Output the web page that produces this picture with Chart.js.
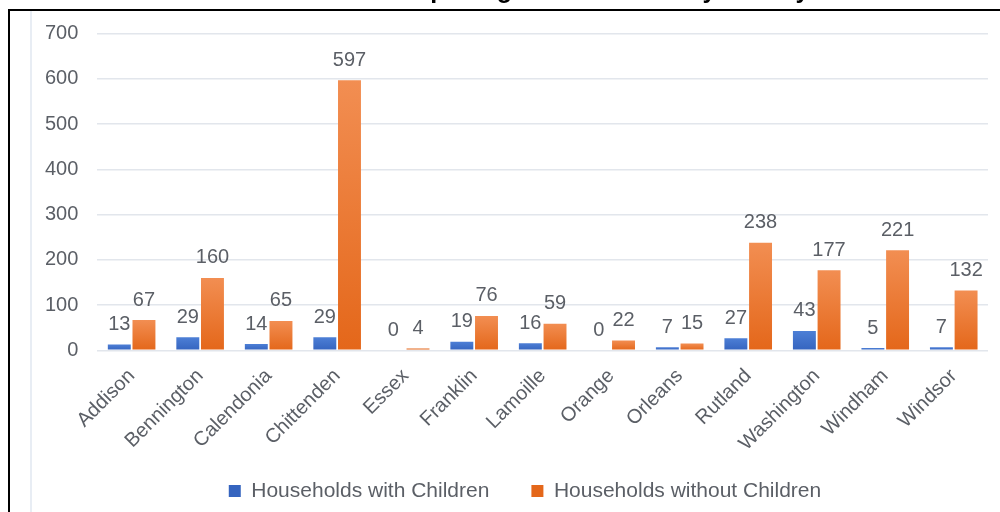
<!DOCTYPE html>
<html>
<head>
<meta charset="utf-8">
<title>Households by County</title>
<script src="https://cdn.jsdelivr.net/npm/chart.js@4/dist/chart.umd.min.js"></script>
<style>
  html, body { margin: 0; padding: 0; background: #fff; overflow: hidden; }
  body { width: 1000px; height: 512px; position: relative; }
  #frame {
    position: absolute; left: 8px; top: 9px; width: 1010px; height: 520px;
    border-top: 2px solid #000; border-left: 2px solid #000;
  }
  #inner {
    position: absolute; left: 30px; top: 11px; width: 0; height: 510px;
    border-left: 2px solid #e8edf4;
  }
  #wrap { position: absolute; left: 12px; top: -24px; width: 1007px; height: 560px; }
</style>
</head>
<body>
<div id="frame"></div>
<div id="inner"></div>
<div id="wrap"><canvas id="barChart"></canvas></div>
<script>
const counties = ['Addison', 'Bennington', 'Calendonia', 'Chittenden', 'Essex', 'Franklin',
  'Lamoille', 'Orange', 'Orleans', 'Rutland', 'Washington', 'Windham', 'Windsor'];
const withChildren = [13, 29, 14, 29, 0, 19, 16, 0, 7, 27, 43, 5, 7];
const withoutChildren = [67, 160, 65, 597, 4, 76, 59, 22, 15, 238, 177, 221, 132];
const seriesNames = ['Households with Children', 'Households without Children'];
const yMax = 700;
const yStep = 100;

const blue = ['#4d7fd6', '#3564bf'];
const orange = ['#f28e52', '#e4671a'];

Chart.defaults.font.family = "'Liberation Sans', Arial, sans-serif";
Chart.defaults.font.size = 20;
Chart.defaults.color = '#5b5f66';

// each bar gets its own top-to-bottom gradient
function barFill(light, dark) {
  return function(ctx) {
    const chart = ctx.chart;
    if (ctx.type !== 'data' || !chart.chartArea || !chart.scales.y) return dark;
    const y = chart.scales.y;
    const top = y.getPixelForValue(ctx.raw);
    const bottom = y.getPixelForValue(0);
    if (bottom - top < 2) return dark;
    const g = chart.ctx.createLinearGradient(0, top, 0, bottom);
    g.addColorStop(0, light);
    g.addColorStop(1, dark);
    return g;
  };
}

// value written above every bar
const valueLabels = {
  id: 'valueLabels',
  afterDatasetsDraw(chart) {
    const c = chart.ctx;
    c.save();
    c.font = "20px 'Liberation Sans', Arial, sans-serif";
    c.fillStyle = '#5b5f66';
    c.textAlign = 'center';
    c.textBaseline = 'bottom';
    chart.data.datasets.forEach(function(ds, i) {
      chart.getDatasetMeta(i).data.forEach(function(bar, j) {
        c.fillText(String(ds.data[j]), bar.x, bar.y - 10);
      });
    });
    c.restore();
  }
};

// legend sits a bit closer to the axis labels and right of centre; title nudged right
const nudge = {
  id: 'nudge',
  afterLayout(chart) {
    const lg = chart.legend;
    lg.left += 18; lg.right += 18;
    lg.top -= 23; lg.bottom -= 23;
    const tb = chart.titleBlock;
    tb.left += 10; tb.right += 10;
  }
};

new Chart(document.getElementById('barChart'), {
  type: 'bar',
  data: {
    labels: counties,
    datasets: [
      { label: seriesNames[0], data: withChildren, backgroundColor: barFill(blue[0], blue[1]) },
      { label: seriesNames[1], data: withoutChildren, backgroundColor: barFill(orange[0], orange[1]) }
    ]
  },
  options: {
    responsive: true,
    maintainAspectRatio: false,
    animation: false,
    categoryPercentage: 0.72,
    barPercentage: 0.93,
    layout: { padding: { left: 14, right: 31, top: 0, bottom: 1.5 } },
    scales: {
      x: {
        grid: { display: false },
        border: { display: false },
        ticks: { minRotation: 45, maxRotation: 45, padding: 6 }
      },
      y: {
        min: 0,
        max: yMax,
        grid: { color: '#e2e6ec', lineWidth: 1.5, drawTicks: false },
        border: { display: false },
        ticks: { stepSize: yStep, padding: 19 }
      }
    },
    plugins: {
      title: {
        display: true,
        text: 'Households Completing Assessments by County',
        color: '#000',
        font: { size: 25, weight: 'bold' },
        padding: { top: 0, bottom: 27.5 }
      },
      legend: {
        position: 'bottom',
        labels: {
          font: { size: 21 },
          boxWidth: 12,
          boxHeight: 12,
          padding: 42,
          generateLabels: function(chart) {
            const cols = [blue[1], orange[1]];
            return Chart.defaults.plugins.legend.labels.generateLabels(chart).map(function(item, i) {
              item.fillStyle = cols[i];
              item.strokeStyle = cols[i];
              item.lineWidth = 0;
              return item;
            });
          }
        }
      },
      tooltip: { enabled: false }
    }
  },
  plugins: [valueLabels, nudge]
});
</script>
</body>
</html>
